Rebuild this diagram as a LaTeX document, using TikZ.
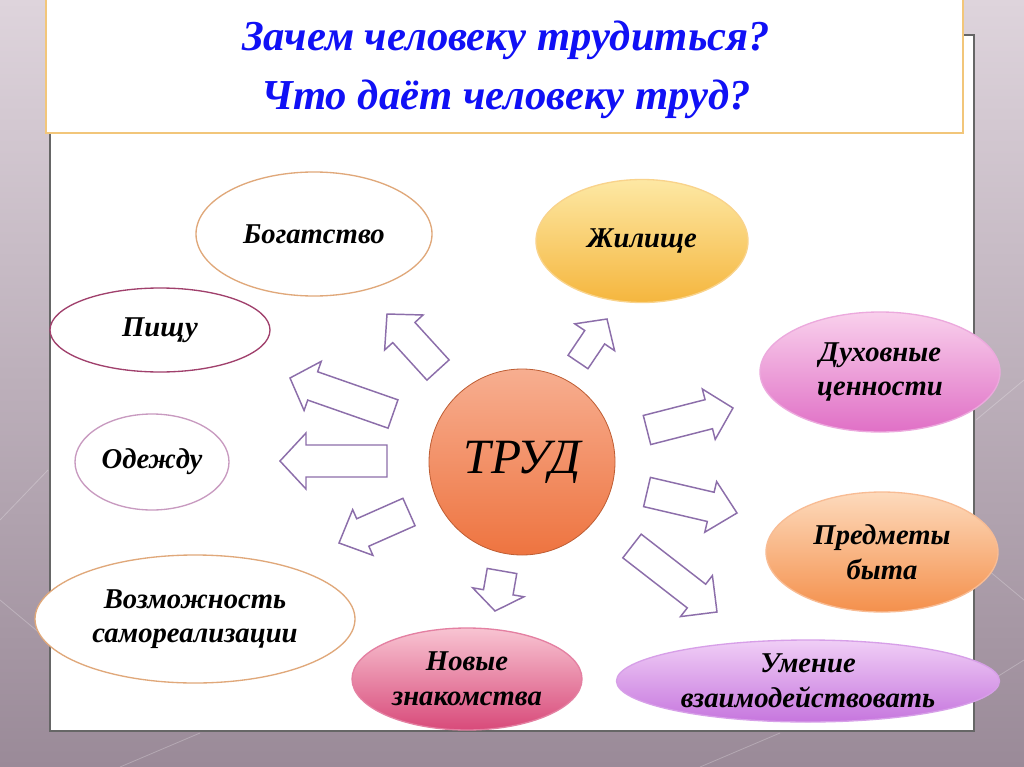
\documentclass[tikz,border=0pt]{standalone}
\usepackage{fontspec}
\setmainfont{Liberation Serif}
\usetikzlibrary{shapes.geometric}
\newcommand\pxu{0.75pt}
\definecolor{bgtop}{HTML}{DED4DC}
\definecolor{bgbot}{HTML}{9A8A98}
\definecolor{titleborder}{HTML}{F2C67A}
\definecolor{titleblue}{HTML}{1010F5}
\definecolor{arrowline}{HTML}{8C6EAA}
\definecolor{tanline}{HTML}{E0A87A}
\definecolor{plumline}{HTML}{A0406C}
\definecolor{lilacline}{HTML}{C89AC0}
\definecolor{hometop}{HTML}{FDE8A4}
\definecolor{homebot}{HTML}{F5B63E}
\definecolor{spirittop}{HTML}{F9D0EC}
\definecolor{spiritbot}{HTML}{E070C6}
\definecolor{thingtop}{HTML}{FDDABC}
\definecolor{thingbot}{HTML}{F4904C}
\definecolor{friendtop}{HTML}{F8C4D2}
\definecolor{friendbot}{HTML}{D84A7A}
\definecolor{inttop}{HTML}{F0CEF6}
\definecolor{intbot}{HTML}{C676DE}
\definecolor{labtop}{HTML}{F7AE90}
\definecolor{labbot}{HTML}{EE7440}
\newcommand\labfont{\fontsize{21.5}{26}\selectfont\bfseries\itshape}
\newcommand\barrow[7]{%
 \pgfmathsetmacro\baang{atan2(#2-#4,#3-#1)}%
 \pgfmathsetmacro\balen{veclen(#3-#1,#4-#2)}%
 \pgfmathsetmacro\babase{\balen-#7}%
 \begin{scope}[shift={(#1,#2)},rotate=\baang]
 \draw[blockarrow] (0,-#5) -- (\babase,-#5) -- (\babase,-#6) -- (\balen,0) -- (\babase,#6) -- (\babase,#5) -- (0,#5) -- cycle;
 \end{scope}}
\begin{document}
\begin{tikzpicture}[x=0.75pt,y=-0.75pt,
  blockarrow/.style={draw=arrowline,fill=white,line width=1.1pt,line join=miter},
  oval/.style={ellipse,inner sep=0pt,align=center,font=\labfont,line width=1pt},
  plain/.style={oval,fill=white}]
\useasboundingbox (0,0) rectangle (1024,767);
\shade[top color=bgtop,bottom color=bgbot] (0,0) rectangle (1024,767);
% faint background lines
\begin{scope}[white,opacity=0.25,line width=0.6pt]
\draw (0,520) -- (48,470);
\draw (0,600) -- (48,640);
\draw (976,420) -- (1024,380);
\draw (976,560) -- (1024,600);
\draw (976,690) -- (1024,660);
\draw (120,767) -- (200,733);
\draw (700,767) -- (780,733);
\end{scope}
% panel
\node[draw=black!60,fill=white,line width=0.8pt,minimum width={924*\pxu},minimum height={696*\pxu},inner sep=0pt] (panel) at (512,383) {};
% title box
\node[draw=titleborder,fill=white,line width=1.2pt,minimum width={917*\pxu},minimum height={136*\pxu},inner sep=0pt] (titlebox) at (504.5,65) {};
\node[font=\fontsize{32}{44}\selectfont\bfseries\itshape,text=titleblue,align=center] (title) at (506,70) {Зачем человеку трудиться?\\Что даёт человеку труд?};
% ellipses
\node[plain,draw=tanline,minimum width={236*\pxu},minimum height={124*\pxu}] (wealth) at (314,234) {Богатство};
\node[oval,draw=homebot!60,top color=hometop,bottom color=homebot,minimum width={212*\pxu},minimum height={123*\pxu}] (home) at (642,241) {Жилище};
\node[plain,draw=plumline,minimum width={220*\pxu},minimum height={84*\pxu}] (food) at (160,330) {Пищу};
\node[oval,draw=spiritbot!60,top color=spirittop,bottom color=spiritbot,minimum width={240*\pxu},minimum height={120*\pxu}] (spirit) at (880,372) {Духовные\\ценности};
\node[plain,draw=lilacline,minimum width={154*\pxu},minimum height={96*\pxu}] (clothes) at (152,462) {Одежду};
\node[circle,inner sep=0pt,draw=labbot!80!black,line width=0.6pt,top color=labtop,bottom color=labbot,minimum size={186*\pxu},font=\fontsize{37}{40}\selectfont\itshape] (labour) at (522,462) {ТРУД};
\node[oval,draw=thingbot!60,top color=thingtop,bottom color=thingbot,minimum width={232*\pxu},minimum height={120*\pxu}] (things) at (882,552) {Предметы\\быта};
\node[plain,draw=tanline,minimum width={320*\pxu},minimum height={128*\pxu}] (selfreal) at (195,619) {Возможность\\самореализации};
\node[oval,draw=friendbot!70,top color=friendtop,bottom color=friendbot,minimum width={230*\pxu},minimum height={102*\pxu}] (friends) at (467,679) {Новые\\знакомства};
\node[oval,draw=intbot!70,top color=inttop,bottom color=intbot,minimum width={383*\pxu},minimum height={82*\pxu}] (interact) at (808,681) {Умение\\взаимодействовать};
% block arrows
\barrow{438}{370}{387}{314}{15}{26}{25}
\barrow{393}{414}{290}{378}{15}{26}{24}
\barrow{387}{461}{280}{461}{16}{28}{26}
\barrow{409}{512}{339}{543}{15}{25}{26}
\barrow{502}{571}{495}{611}{15}{26}{19}
\barrow{578}{362}{607}{319}{12}{24}{22}
\barrow{647}{430}{733}{408}{15}{26}{25}
\barrow{647}{492}{737}{513}{15}{26}{27}
\barrow{632}{546}{717}{612}{15}{26}{26}
\end{tikzpicture}
\end{document}
